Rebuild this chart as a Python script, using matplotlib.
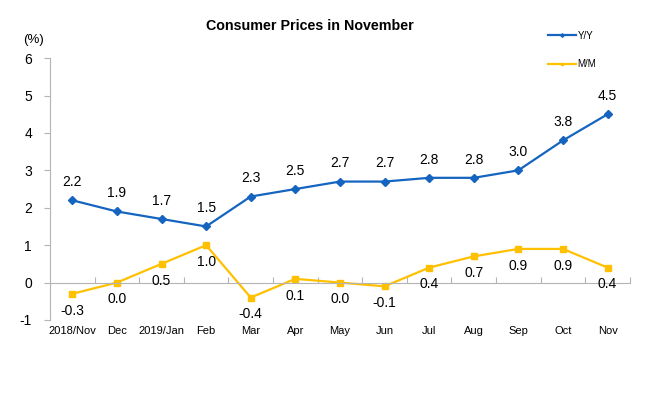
import numpy as np
import matplotlib
matplotlib.use("Agg")
import matplotlib.pyplot as plt
from matplotlib.ticker import FixedLocator

months = ["2018/Nov", "Dec", "2019/Jan", "Feb", "Mar", "Apr", "May",
          "Jun", "Jul", "Aug", "Sep", "Oct", "Nov"]
yy = [2.2, 1.9, 1.7, 1.5, 2.3, 2.5, 2.7, 2.7, 2.8, 2.8, 3.0, 3.8, 4.5]
mm = [-0.3, 0.0, 0.5, 1.0, -0.4, 0.1, 0.0, -0.1, 0.4, 0.7, 0.9, 0.9, 0.4]
yticks = [-1, 0, 1, 2, 3, 4, 5, 6]

blue = "#1565C0"
yellow = "#FFC000"
grey = "#B4B4B4"
plt.rcParams["font.family"] = ["Liberation Sans", "DejaVu Sans"]

fig = plt.figure(figsize=(6.62, 3.98), dpi=100)
ax = fig.add_axes([0.0755, 0.196, 0.876, 0.658])

x = np.arange(len(months))
l1, = ax.plot(x, yy, color=blue, lw=1.6, marker="D", ms=4.5, label="Y/Y")
l2, = ax.plot(x, mm, color=yellow, lw=1.6, marker="s", ms=4.5, label="M/M")

#data labels
for xi, v in zip(x, yy):
    ax.annotate("%.1f" % v, (xi, v), xytext=(0, 8), textcoords="offset points",
                ha="center", va="bottom", fontsize=10)
for xi, v in zip(x, mm):
    ax.annotate("%.1f" % v, (xi, v), xytext=(0, -7), textcoords="offset points",
                ha="center", va="top", fontsize=10)

ax.set_xlim(-0.5, len(months) - 0.5)
ax.set_ylim(-1, 6)
ax.set_yticks(yticks)
ax.set_yticklabels([str(t) for t in yticks], fontsize=10)
ax.tick_params(axis="y", colors=grey, labelcolor="black", length=4, width=0.8, pad=9)

#x axis drawn at zero with small upward ticks between months
ax.spines["bottom"].set_position(("data", 0))
ax.spines["bottom"].set_color(grey)
ax.spines["left"].set_color(grey)
ax.spines["top"].set_visible(False)
ax.spines["right"].set_visible(False)
ax.set_xticks(x)
ax.set_xticklabels(months, fontsize=8)
ax.xaxis.set_minor_locator(FixedLocator(np.arange(0.5, len(months), 1)))
ax.tick_params(axis="x", which="major", length=0, pad=31)
ax.tick_params(axis="x", which="minor", direction="in", length=4, color=grey, width=0.8)

fig.text(0.05, 0.893, "(%)", fontsize=9.5, ha="center")
fig.text(0.468, 0.935, "Consumer Prices in November", fontsize=10.3, fontweight="bold",
         ha="center", va="center")

fig.legend(handles=[l1, l2], loc="upper left", bbox_to_anchor=(0.815, 0.945),
           frameon=False, handlelength=2.8, handletextpad=0.2,
           labelspacing=1.9, markerscale=0.4, prop={"size": 7})

plt.savefig("out.png", dpi=100)
